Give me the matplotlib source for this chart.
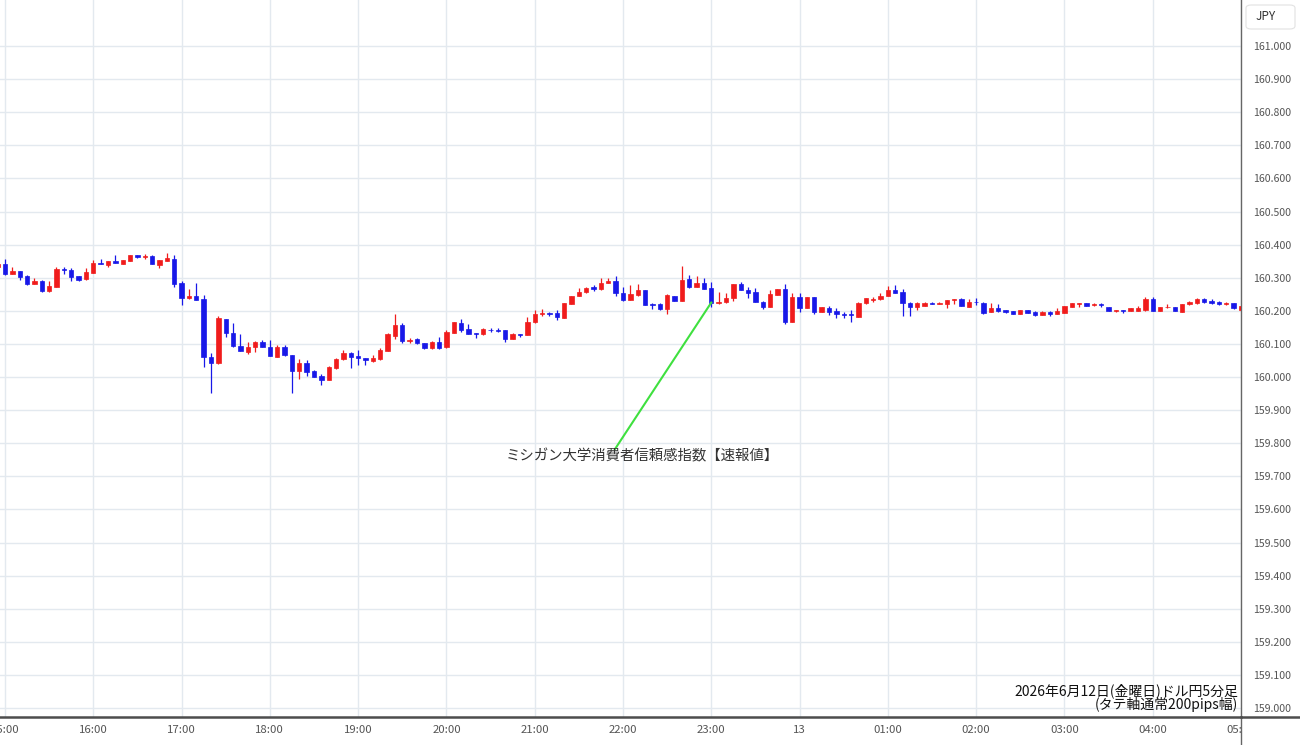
import numpy as np
import pandas as pd
import matplotlib
matplotlib.use("Agg")
import matplotlib.pyplot as plt
from matplotlib.patches import Rectangle, FancyBboxPatch
from matplotlib.lines import Line2D

plt.rcParams['font.family'] = ['Noto Sans CJK JP', 'DejaVu Sans']

# ---------------- data ----------------
first_bar = "2026-06-12 14:55"
axis_origin = "2026-06-12 15:00"
bar_minutes = 5

opens = [160.333,
    160.342, 160.311, 160.320, 160.306, 160.281, 160.291, 160.260, 160.273, 160.325, 160.323, 160.305, 160.295,
    160.315, 160.344, 160.338, 160.351, 160.342, 160.351, 160.369, 160.364, 160.367, 160.338, 160.351, 160.357,
    160.283, 160.238, 160.246, 160.235, 160.062, 160.041, 160.174, 160.132, 160.095, 160.077, 160.092, 160.106,
    160.092, 160.061, 160.092, 160.066, 160.019, 160.043, 160.019, 160.003, 159.991, 160.026, 160.054, 160.074,
    160.064, 160.058, 160.048, 160.053, 160.079, 160.124, 160.157, 160.110, 160.114, 160.102, 160.087, 160.105,
    160.090, 160.134, 160.162, 160.144, 160.133, 160.129, 160.143, 160.143, 160.142, 160.115, 160.129, 160.127,
    160.165, 160.189, 160.192, 160.192, 160.178, 160.221, 160.245, 160.256, 160.271, 160.265, 160.285, 160.291,
    160.255, 160.233, 160.248, 160.263, 160.220, 160.220, 160.205, 160.245, 160.230, 160.295, 160.273, 160.283,
    160.268, 160.225, 160.226, 160.238, 160.280, 160.263, 160.258, 160.228, 160.212, 160.248, 160.265, 160.167,
    160.241, 160.209, 160.241, 160.196, 160.209, 160.200, 160.190, 160.189, 160.182, 160.223, 160.233, 160.235,
    160.245, 160.263, 160.256, 160.225, 160.212, 160.215, 160.224, 160.222, 160.221, 160.233, 160.235, 160.212,
    160.228, 160.225, 160.196, 160.208, 160.202, 160.199, 160.190, 160.202, 160.197, 160.187, 160.197, 160.190,
    160.194, 160.212, 160.221, 160.223, 160.219, 160.221, 160.212, 160.199, 160.202, 160.200, 160.200, 160.202,
    160.235, 160.199, 160.211, 160.212, 160.197, 160.221, 160.225, 160.235, 160.231, 160.228, 160.220, 160.223,
    160.202]

highs = [160.345,
    160.356, 160.332, 160.321, 160.308, 160.298, 160.293, 160.289, 160.331, 160.331, 160.328, 160.306, 160.328,
    160.354, 160.356, 160.352, 160.369, 160.355, 160.370, 160.370, 160.372, 160.368, 160.355, 160.374, 160.369,
    160.291, 160.265, 160.283, 160.248, 160.072, 160.184, 160.175, 160.162, 160.130, 160.107, 160.108, 160.112,
    160.112, 160.096, 160.097, 160.067, 160.054, 160.051, 160.021, 160.008, 160.033, 160.056, 160.082, 160.077,
    160.082, 160.059, 160.067, 160.087, 160.132, 160.190, 160.162, 160.119, 160.119, 160.103, 160.108, 160.122,
    160.142, 160.167, 160.175, 160.159, 160.134, 160.147, 160.149, 160.149, 160.143, 160.133, 160.130, 160.182,
    160.202, 160.205, 160.197, 160.202, 160.225, 160.246, 160.268, 160.272, 160.278, 160.298, 160.298, 160.305,
    160.273, 160.278, 160.280, 160.264, 160.225, 160.225, 160.251, 160.246, 160.336, 160.308, 160.305, 160.298,
    160.288, 160.258, 160.253, 160.281, 160.288, 160.271, 160.268, 160.229, 160.263, 160.266, 160.281, 160.253,
    160.253, 160.242, 160.242, 160.213, 160.215, 160.208, 160.197, 160.202, 160.226, 160.239, 160.243, 160.253,
    160.275, 160.278, 160.265, 160.226, 160.228, 160.228, 160.226, 160.228, 160.234, 160.236, 160.238, 160.235,
    160.238, 160.226, 160.223, 160.221, 160.203, 160.200, 160.203, 160.203, 160.198, 160.198, 160.198, 160.208,
    160.216, 160.224, 160.225, 160.225, 160.223, 160.223, 160.213, 160.203, 160.203, 160.209, 160.215, 160.243,
    160.243, 160.213, 160.220, 160.213, 160.222, 160.229, 160.240, 160.240, 160.235, 160.231, 160.228, 160.225,
    160.216]

lows = [160.329,
    160.308, 160.310, 160.293, 160.279, 160.280, 160.257, 160.258, 160.272, 160.310, 160.290, 160.290, 160.294,
    160.314, 160.340, 160.333, 160.343, 160.341, 160.350, 160.361, 160.356, 160.340, 160.328, 160.350, 160.271,
    160.218, 160.237, 160.232, 160.031, 159.951, 160.039, 160.120, 160.092, 160.079, 160.070, 160.075, 160.091,
    160.063, 160.060, 160.065, 159.953, 159.993, 160.004, 159.999, 159.976, 159.990, 160.023, 160.051, 160.026,
    160.036, 160.036, 160.046, 160.051, 160.078, 160.115, 160.104, 160.102, 160.099, 160.084, 160.085, 160.085,
    160.089, 160.133, 160.137, 160.129, 160.117, 160.128, 160.135, 160.135, 160.107, 160.114, 160.122, 160.126,
    160.164, 160.184, 160.184, 160.171, 160.177, 160.220, 160.244, 160.255, 160.261, 160.264, 160.284, 160.245,
    160.231, 160.232, 160.245, 160.217, 160.205, 160.204, 160.190, 160.230, 160.229, 160.268, 160.272, 160.266,
    160.211, 160.221, 160.225, 160.231, 160.262, 160.238, 160.227, 160.205, 160.211, 160.247, 160.159, 160.166,
    160.197, 160.208, 160.190, 160.195, 160.187, 160.177, 160.177, 160.167, 160.181, 160.222, 160.226, 160.234,
    160.244, 160.254, 160.183, 160.183, 160.202, 160.214, 160.220, 160.220, 160.208, 160.220, 160.214, 160.211,
    160.218, 160.189, 160.195, 160.197, 160.193, 160.189, 160.189, 160.193, 160.185, 160.186, 160.184, 160.189,
    160.193, 160.212, 160.212, 160.214, 160.215, 160.212, 160.198, 160.197, 160.194, 160.199, 160.199, 160.201,
    160.198, 160.198, 160.208, 160.198, 160.196, 160.218, 160.220, 160.223, 160.222, 160.219, 160.219, 160.205,
    160.201]

closes = [160.342,
    160.311, 160.320, 160.303, 160.281, 160.291, 160.260, 160.275, 160.325, 160.323, 160.303, 160.293, 160.318,
    160.345, 160.341, 160.351, 160.344, 160.354, 160.369, 160.362, 160.366, 160.341, 160.354, 160.359, 160.281,
    160.238, 160.246, 160.233, 160.061, 160.041, 160.178, 160.132, 160.094, 160.080, 160.092, 160.107, 160.092,
    160.064, 160.092, 160.066, 160.019, 160.043, 160.016, 160.001, 159.991, 160.029, 160.055, 160.074, 160.061,
    160.056, 160.052, 160.058, 160.083, 160.129, 160.156, 160.109, 160.113, 160.102, 160.087, 160.107, 160.089,
    160.137, 160.165, 160.142, 160.130, 160.130, 160.145, 160.141, 160.140, 160.114, 160.129, 160.127, 160.167,
    160.189, 160.192, 160.189, 160.180, 160.224, 160.245, 160.256, 160.270, 160.265, 160.285, 160.291, 160.253,
    160.233, 160.250, 160.263, 160.218, 160.218, 160.205, 160.248, 160.231, 160.293, 160.273, 160.283, 160.267,
    160.225, 160.228, 160.240, 160.280, 160.263, 160.255, 160.228, 160.212, 160.250, 160.265, 160.167, 160.241,
    160.209, 160.241, 160.196, 160.212, 160.197, 160.189, 160.188, 160.186, 160.225, 160.238, 160.235, 160.245,
    160.262, 160.255, 160.225, 160.212, 160.223, 160.225, 160.221, 160.224, 160.233, 160.235, 160.215, 160.228,
    160.226, 160.192, 160.208, 160.200, 160.196, 160.190, 160.202, 160.194, 160.187, 160.197, 160.189, 160.200,
    160.215, 160.223, 160.223, 160.215, 160.221, 160.219, 160.199, 160.202, 160.199, 160.208, 160.209, 160.235,
    160.199, 160.212, 160.212, 160.199, 160.221, 160.228, 160.236, 160.228, 160.223, 160.220, 160.225, 160.208,
    160.215]

y_ticks = [159.0, 159.1, 159.2, 159.3, 159.4, 159.5, 159.6, 159.7, 159.8, 159.9,
           160.0, 160.1, 160.2, 160.3, 160.4, 160.5, 160.6, 160.7, 160.8, 160.9, 161.0]

event_time = "2026-06-12 23:00"
event_label = "ミシガン大学消費者信頼感指数【速報値】"
title_lines = ["2026年6月12日(金曜日)ドル円5分足", "(タテ軸通常200pips幅)"]
currency = "JPY"

up_color = "#f01c1c"
down_color = "#1818e8"

# ---------------- layout ----------------
W, H = 1300, 745
AX_RIGHT = 1241
AX_BOTTOM = 717
PX_PER_BAR = 7.358
X0_PX = 5

fig = plt.figure(figsize=(W / 100, H / 100), dpi=100)
fig.patch.set_facecolor("white")
ax = fig.add_axes([0, (H - AX_BOTTOM) / H, AX_RIGHT / W, AX_BOTTOM / H])

o = np.array(opens); h = np.array(highs); l = np.array(lows); c = np.array(closes)
times = pd.date_range(first_bar, periods=len(opens), freq=f"{bar_minutes}min")
x = ((times - pd.Timestamp(axis_origin)) / pd.Timedelta(minutes=bar_minutes)).to_numpy(dtype=float)

ax.set_xlim(-X0_PX / PX_PER_BAR, (AX_RIGHT - X0_PX) / PX_PER_BAR)
ax.set_ylim(158.973, 161.139)

colors = np.where(c >= o, up_color, down_color)
ax.vlines(x, l, h, colors=colors, lw=0.9, zorder=2)
ax.bar(x, np.abs(c - o), bottom=np.minimum(o, c), width=0.6, color=colors,
       edgecolor=colors, linewidth=0.5, zorder=3)

# hour ticks
hour_mask = (times.minute == 0)
hour_x = x[hour_mask]
hour_labels = [t.strftime("%H:%M") if (t.hour or t.minute) else str(t.day)
               for t in times[hour_mask]]
ax.set_xticks(hour_x)
ax.set_xticklabels([])
ax.tick_params(axis='x', length=0)

ax.set_yticks(y_ticks)
ax.yaxis.tick_right()
ax.set_yticklabels([f"{v:.3f}" for v in y_ticks], fontsize=7.6, color="#555555")
ax.tick_params(axis='y', length=0, pad=8.5)

ax.grid(True, color="#e3e9ef", lw=1.0)
ax.set_axisbelow(True)

for s in ("top", "left"):
    ax.spines[s].set_visible(False)
ax.spines["bottom"].set_color("#4d4d4d")
ax.spines["bottom"].set_linewidth(1.8)
ax.spines["right"].set_color("#666666")
ax.spines["right"].set_linewidth(1.0)

clip_rect = Rectangle((0, 0), AX_RIGHT / W, 1, transform=fig.transFigure)
for xi, lab in zip(hour_x, hour_labels):
    t = ax.text(xi, -13 / AX_BOTTOM, lab, transform=ax.get_xaxis_transform(),
                ha="center", va="center", fontsize=8.2, color="#555555")
    t.set_clip_path(clip_rect)
    t.set_clip_on(True)

fig.add_artist(Line2D([AX_RIGHT / W] * 2, [0, (H - AX_BOTTOM) / H], color="#666666", lw=1.0))
fig.add_artist(Line2D([AX_RIGHT / W, 1.0], [(H - AX_BOTTOM) / H] * 2, color="#4d4d4d", lw=1.8))

# annotation
ei = int(np.where(times == pd.Timestamp(event_time))[0][0])
anchor_x, anchor_y = 82.9, 159.782
ax.plot([x[ei], anchor_x], [c[ei], anchor_y], color="#3fe03f", lw=1.5, zorder=4)
ax.text(86.6, 159.761, event_label, ha="center", va="center", fontsize=10.4, color="#333333", zorder=5)

# title texts bottom right
fig.text(1238 / W, 1 - 691 / H, title_lines[0], ha="right", va="center", fontsize=10, color="#111111")
fig.text(1238 / W, 1 - 705 / H, title_lines[1], ha="right", va="center", fontsize=10, color="#111111")

# currency box
box = FancyBboxPatch((1246 / W, 1 - 29 / H), 49 / W, 24 / H,
                     boxstyle="round,pad=0,rounding_size=0.004", transform=fig.transFigure,
                     fc="white", ec="#e2e2e2", lw=0.8)
fig.add_artist(box)
fig.text(1266 / W, 1 - 16 / H, currency, ha="center", va="center", fontsize=8.5, color="#333333")

fig.savefig("out.png", dpi=100)
